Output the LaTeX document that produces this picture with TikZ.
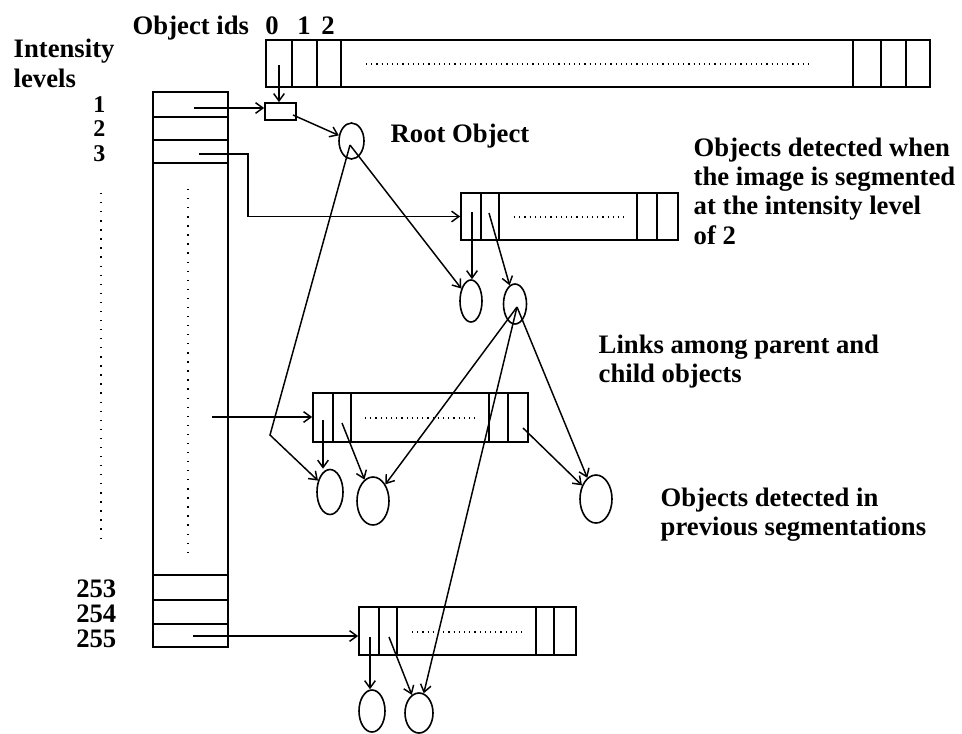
\documentclass[tikz,border=0pt]{standalone}
\usepackage{fontspec}
\setmainfont{Liberation Serif}
\usetikzlibrary{arrows.meta,shapes.geometric}

\begin{document}
\begin{tikzpicture}[
  x=0.75pt, y=-0.75pt,
  line width=1.1pt,
  bar/.style={draw, line width=1.3pt, rectangle, inner sep=0pt},
  obj/.style={draw, ellipse, inner sep=0pt, line width=1.2pt},
  arr/.style={-{Straight Barb[length=5.5pt,width=8pt]}, line width=1.1pt},
  dotrow/.style={line width=1.1pt, dash pattern=on 0.9pt off 3pt},
  dotcol/.style={line width=1.3pt, dash pattern=on 1pt off 5.8pt},
  lbl/.style={font=\fontsize{20}{22}\selectfont\bfseries, inner sep=0pt},
  num/.style={font=\fontsize{18}{20}\selectfont\bfseries, inner sep=0pt, anchor=base east},
  note/.style={lbl, align=left, anchor=north west}
]
  \useasboundingbox (0,0) rectangle (962,733);

  % Headings
  \node[lbl, anchor=base west] (oid) at (132,34) {Object ids};
  \node[lbl, anchor=base] (id0) at (272,34) {0};
  \node[lbl, anchor=base] (id1) at (304,34) {1};
  \node[lbl, anchor=base] (id2) at (328,34) {2};
  \node[lbl, anchor=base west] (inten) at (13,57) {Intensity};
  \node[lbl, anchor=base west] (levs) at (13,87) {levels};

  % Object id table
  \node[bar, minimum width=498pt, minimum height=35.25pt] (ids) at (598,63.5) {};
  \foreach \x in {292,317,341,853,881,906}
    \draw[line width=1.3pt] (\x,40) -- (\x,87);
  \draw[dotrow] (366,64) -- (810,64);

  % Intensity level table
  \node[bar, minimum width=56.25pt, minimum height=416.25pt] (lev) at (190.5,369.5) {};
  \foreach \y in {117,140,163,575,600,624}
    \draw[line width=1.3pt] (153,\y) -- (228,\y);
  \draw[dotcol] (188,189) -- (188,557);
  \draw[dotcol] (101,193) -- (101,539);
  \node[num] (n1) at (106,112) {1};
  \node[num] (n2) at (106,136) {2};
  \node[num] (n3) at (106,161) {3};
  \node[lbl, anchor=base east] (n253) at (117,597) {253};
  \node[lbl, anchor=base east] (n254) at (117,622) {254};
  \node[lbl, anchor=base east] (n255) at (117,647) {255};

  % Object tables per level
  \node[bar, minimum width=23.25pt, minimum height=12.75pt] (ptr) at (280.5,111.5) {};
  \node[bar, minimum width=162.75pt, minimum height=35.25pt] (lvtwo) at (569.5,216.5) {};
  \foreach \x in {481,499,637,657}
    \draw[line width=1.3pt] (\x,193) -- (\x,240);
  \draw[dotrow] (514,217) -- (627,217);
  \node[bar, minimum width=161.25pt, minimum height=36.75pt] (lvmid) at (420.5,417.5) {};
  \foreach \x in {333,351,489,508}
    \draw[line width=1.3pt] (\x,393) -- (\x,442);
  \draw[dotrow] (365,418) -- (477,418);
  \node[bar, minimum width=162.75pt, minimum height=36pt] (lvlast) at (467.5,631) {};
  \foreach \x in {379,397,536,554}
    \draw[line width=1.3pt] (\x,607) -- (\x,655);
  \draw[dotrow] (412,632) -- (524,632);

  % Objects
  \node[obj, minimum width=18.75pt, minimum height=27pt] (root) at (351.5,141) {};
  \node[obj, minimum width=16.5pt, minimum height=31.5pt] (objA) at (471,301) {};
  \node[obj, minimum width=17.25pt, minimum height=30pt] (objB) at (515,304) {};
  \node[obj, minimum width=19.5pt, minimum height=33.75pt] (objC) at (330,492) {};
  \node[obj, minimum width=24pt, minimum height=36pt] (objD) at (373,501) {};
  \node[obj, minimum width=24pt, minimum height=36pt] (objE) at (596,499) {};
  \node[obj, minimum width=19.5pt, minimum height=31.5pt] (objF) at (372,711) {};
  \node[obj, minimum width=21pt, minimum height=30pt] (objG) at (419,713) {};

  % Labels
  \node[lbl, anchor=base west] (rootlbl) at (390,142) {Root Object};
  \node[note] (segtxt) at (693,137) {Objects detected when\\the image is segmented\\at the intensity level\\of 2};
  \node[note] (linktxt) at (598,334) {Links among parent and\\child objects};
  \node[note] (prevtxt) at (660,487) {Objects detected in\\previous segmentations};

  % Pointer ends
  \coordinate (r1) at (194,108);
  \coordinate (r3) at (199,154);
  \coordinate (rm) at (212,417);
  \coordinate (r255) at (193,636);
  \coordinate (c0) at (279,65);
  \coordinate (p0) at (293,115);
  \coordinate (rootout) at (350,145);
  \coordinate (kink) at (270,435);
  \coordinate (t0) at (472,212);
  \coordinate (t1) at (489,213);
  \coordinate (bout) at (517,307);
  \coordinate (m0) at (323,420);
  \coordinate (m1) at (342,423);
  \coordinate (mz) at (523,428);
  \coordinate (s0) at (370,637);
  \coordinate (s1) at (389,637);

  % Links
  \draw[arr] (r1) -- (r1 -| ptr.west);
  \draw[arr] (c0) -- (c0 |- ptr.north);
  \draw[arr] (p0) -- (root);
  \draw[arr] (r3) -- ++(49,0) |- (lvtwo.west);
  \draw[arr] (t0) -- (t0 |- objA.north);
  \draw[arr] (t1) -- (objB);
  \draw[arr] (rootout) -- (objA);
  \draw[arr] (rootout) -- (kink) -- (objC);
  \draw[arr] (rm) -- (rm -| lvmid.west);
  \draw[arr] (m0) -- (m0 |- objC.north);
  \draw[arr] (m1) -- (objD);
  \draw[arr] (mz) -- (objE);
  \draw[arr] (bout) -- (objD);
  \draw[arr] (bout) -- (objE);
  \draw[arr] (bout) -- (objG);
  \draw[arr] (r255) -- (r255 -| lvlast.west);
  \draw[arr] (s0) -- (s0 |- objF.north);
  \draw[arr] (s1) -- (objG);
\end{tikzpicture}
\end{document}
